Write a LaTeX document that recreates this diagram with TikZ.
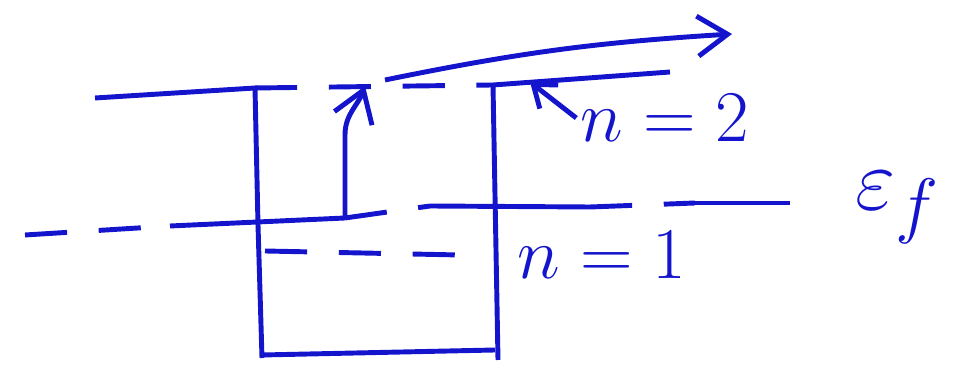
\documentclass[tikz,border=0pt]{standalone}
\usepackage{tikz}
\usetikzlibrary{arrows.meta, positioning}
\definecolor{penblue}{RGB}{20,20,205}

\begin{document}
\begin{tikzpicture}[
    wall/.style={penblue, line width=1.4pt},
    level/.style={penblue, line width=1.4pt, dash pattern=on 12pt off 9pt},
    arrow/.style={-{Straight Barb[length=3mm, width=4mm]}, penblue, line width=1.4pt},
    lbl/.style={text=penblue, font=\huge, inner sep=1pt}
]
\useasboundingbox (0,0) rectangle (9.7,-3.79);

% Well corners
\coordinate (btop) at (0.95,-0.98);
\coordinate (lwtop) at (2.55,-0.88);
\coordinate (lwbot) at (2.62,-3.58);
\coordinate (rwtop) at (4.93,-0.85);
\coordinate (rwbot) at (4.98,-3.60);
\coordinate (bl) at (2.62,-3.55);
\coordinate (br) at (4.95,-3.50);

% Levels
\coordinate (lvtwo) at (6.70,-0.72);
\coordinate (ntwo) at (5.30,-0.82);
\coordinate (efa) at (0.25,-2.35);
\coordinate (efb) at (1.70,-2.26);
\coordinate (efc) at (3.45,-2.18);
\coordinate (efd) at (4.30,-2.06);
\coordinate (efe) at (5.90,-2.07);
\coordinate (eff) at (6.95,-2.03);
\coordinate (efg) at (7.90,-2.03);
\coordinate (lvone) at (2.65,-2.51);
\coordinate (lvonee) at (4.60,-2.55);

% Escape path
\coordinate (esctop) at (3.65,-0.86);
\coordinate (escs) at (3.85,-0.80);
\coordinate (esce) at (7.32,-0.34);

% Labels
\node[lbl] (n2) at (6.65,-1.18) {$n = 2$};
\node[lbl] (n1) at (6.02,-2.55) {$n = 1$};
\node[lbl, font=\Huge] (ef) at (8.98,-2.08) {$\varepsilon_f$};

% Well
\draw[wall] (btop) -- (lwtop) -- (2.58,-2.25) -- (lwbot);
\draw[wall] (rwtop) -- (rwbot);
\draw[wall] (bl) -- (br);

% n = 2 level
\draw[level] (lwtop) -- (rwtop);
\draw[wall] (rwtop) -- (lvtwo);
\draw[arrow, -{Straight Barb[length=2mm, width=3mm]}] (n2.west) -- (ntwo);

% Fermi level
\draw[level] (efa) -- (efb);
\draw[wall] (efb) -- (efc);
\draw[level] (efc) -- (efd);
\draw[wall] (efd) -- (efe);
\draw[level] (efe) -- (eff);
\draw[wall] (eff) -- (efg);

% n = 1 level
\draw[level] (lvone) -- (lvonee);

% Excitation and escape
\draw[arrow] (efc) -- (3.45,-1.35) to[out=90, in=-110] (esctop);
\draw[arrow] (escs) to[bend left=4] (esce);

\end{tikzpicture}
\end{document}
